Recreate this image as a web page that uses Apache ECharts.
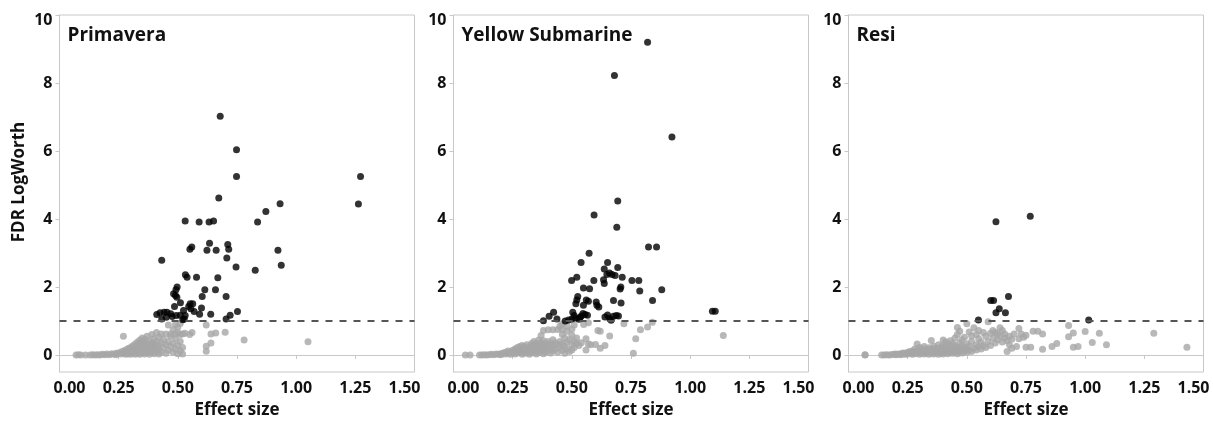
<!DOCTYPE html>
<html>
<head>
<meta charset="utf-8">
<style>
  html, body { margin: 0; padding: 0; background: #ffffff; }
  #chart { width: 1213px; height: 421px; }
</style>
<script src="https://cdn.jsdelivr.net/npm/echarts@6/dist/echarts.min.js"></script>
</head>
<body>
<div id="chart"></div>
<script>
// Effect size vs FDR LogWorth, three cultivars.
var panelNames = ['Primavera', 'Yellow Submarine', 'Resi'];
var xTicks = [0, 0.25, 0.5, 0.75, 1.0, 1.25, 1.5];
var yTicks = [0, 2, 4, 6, 8, 10];
var threshold = 1;

// Primavera: below threshold (grey) and significant (black)
var primaveraGrey = [
  [0.07,0.00],[0.08,0.01],[0.09,0.00],[0.11,0.00],[0.13,0.00],[0.14,0.01],[0.15,0.00],[0.16,0.01],[0.17,0.00],[0.18,0.02],
  [0.19,0.01],[0.20,0.03],[0.21,0.01],[0.22,0.04],[0.23,0.02],[0.24,0.05],[0.24,0.01],[0.25,0.06],[0.26,0.03],[0.26,0.09],
  [0.27,0.05],[0.27,0.12],[0.27,0.55],[0.28,0.02],[0.28,0.08],[0.28,0.15],[0.29,0.04],[0.29,0.11],[0.29,0.19],
  [0.30,0.02],[0.30,0.08],[0.30,0.14],[0.30,0.22],[0.31,0.05],[0.31,0.11],[0.31,0.18],[0.31,0.27],[0.32,0.02],[0.32,0.08],
  [0.32,0.15],[0.32,0.23],[0.32,0.32],[0.33,0.05],[0.33,0.12],[0.33,0.19],[0.33,0.28],[0.33,0.38],[0.34,0.02],[0.34,0.09],
  [0.34,0.16],[0.34,0.24],[0.34,0.34],[0.34,0.44],[0.35,0.06],[0.35,0.13],[0.35,0.21],[0.35,0.30],[0.35,0.40],[0.35,0.50],
  [0.36,0.03],[0.36,0.10],[0.36,0.18],[0.36,0.27],[0.36,0.36],[0.36,0.46],[0.37,0.07],[0.37,0.15],[0.37,0.24],[0.37,0.33],
  [0.37,0.55],[0.38,0.02],[0.38,0.12],[0.38,0.21],[0.38,0.30],[0.38,0.42],[0.39,0.08],[0.39,0.18],[0.39,0.27],[0.39,0.36],
  [0.39,0.60],[0.40,0.04],[0.40,0.14],[0.40,0.24],[0.40,0.33],[0.40,0.48],[0.41,0.10],[0.41,0.21],[0.41,0.40],[0.41,0.66],
  [0.42,0.03],[0.42,0.17],[0.42,0.28],[0.42,0.52],[0.43,0.09],[0.43,0.36],[0.43,0.62],[0.44,0.22],[0.44,0.45],[0.45,0.05],
  [0.45,0.30],[0.45,0.62],[0.46,0.14],[0.46,0.40],[0.46,0.88],[0.47,0.25],[0.47,0.55],[0.47,0.62],[0.48,0.08],[0.48,0.34],
  [0.48,0.75],[0.49,0.18],[0.49,0.48],[0.49,0.62],[0.49,0.90],[0.50,0.04],[0.50,0.28],[0.50,0.66],[0.50,0.82],[0.51,0.12],
  [0.51,0.40],[0.51,0.60],[0.51,0.93],[0.52,0.03],[0.52,0.22],[0.52,0.62],[0.53,0.64],[0.55,0.60],[0.56,0.66],
  [0.62,0.88],[0.62,0.26],[0.62,0.11],[0.64,0.35],[0.64,0.62],[0.66,0.65],[0.70,0.67],[0.78,0.44],[1.05,0.39]
];
var primaveraBlack = [
  [0.679,7.02],[0.748,6.04],[0.748,5.25],[1.272,5.25],[1.263,4.44],[0.673,4.62],[0.932,4.45],[0.872,4.22],[0.837,3.91],
  [0.531,3.94],[0.590,3.91],[0.632,3.91],[0.651,3.94],[0.634,3.29],[0.711,3.25],[0.715,3.11],[0.559,3.18],[0.551,3.11],
  [0.623,3.08],[0.662,3.08],[0.923,3.08],[0.432,2.79],[0.707,2.85],[0.746,2.59],[0.937,2.64],[0.827,2.49],[0.532,2.36],
  [0.539,2.29],[0.579,2.29],[0.669,2.27],[0.614,1.92],[0.659,1.92],[0.497,2.00],[0.492,1.92],[0.482,1.80],[0.490,1.75],
  [0.496,1.70],[0.603,1.72],[0.704,1.72],[0.511,1.54],[0.486,1.43],[0.552,1.51],[0.563,1.51],[0.600,1.38],[0.546,1.43],
  [0.555,1.36],[0.524,1.31],[0.569,1.28],[0.752,1.28],[0.639,1.20],[0.592,1.20],[0.411,1.19],[0.425,1.24],[0.442,1.26],
  [0.454,1.26],[0.470,1.21],[0.476,1.13],[0.493,1.16],[0.510,1.17],[0.432,1.06],[0.451,1.11],[0.527,1.06],[0.521,1.04],
  [0.721,1.17],[0.704,1.06],[0.531,1.16]
];

// Yellow Submarine
var yellowGrey = [
  [0.05,0.00],[0.07,0.00],[0.11,0.00],[0.12,0.00],[0.13,0.01],[0.14,0.00],[0.15,0.01],[0.16,0.02],[0.17,0.01],[0.18,0.03],
  [0.19,0.02],[0.20,0.04],[0.20,0.01],[0.21,0.06],[0.22,0.03],[0.22,0.08],[0.23,0.05],[0.23,0.12],[0.24,0.02],[0.24,0.09],
  [0.25,0.14],[0.25,0.05],[0.26,0.18],[0.26,0.10],[0.26,0.03],[0.27,0.22],[0.27,0.13],[0.27,0.06],[0.28,0.25],[0.28,0.16],
  [0.28,0.08],[0.29,0.28],[0.29,0.19],[0.29,0.11],[0.29,0.02],[0.30,0.24],[0.30,0.14],[0.30,0.05],[0.31,0.30],[0.31,0.18],
  [0.31,0.09],[0.32,0.22],[0.32,0.12],[0.32,0.02],[0.33,0.34],[0.33,0.26],[0.33,0.15],[0.33,0.06],[0.34,0.40],[0.34,0.30],
  [0.34,0.19],[0.34,0.10],[0.35,0.34],[0.35,0.23],[0.35,0.13],[0.35,0.03],[0.36,0.44],[0.36,0.28],[0.36,0.17],[0.36,0.07],
  [0.37,0.57],[0.37,0.36],[0.37,0.21],[0.37,0.11],[0.38,0.72],[0.38,0.42],[0.38,0.30],[0.38,0.15],[0.38,0.04],[0.39,0.34],
  [0.39,0.22],[0.39,0.09],[0.40,0.74],[0.40,0.40],[0.40,0.27],[0.40,0.14],[0.41,0.32],[0.41,0.20],[0.41,0.06],[0.42,0.74],
  [0.42,0.45],[0.42,0.26],[0.42,0.12],[0.43,0.36],[0.43,0.18],[0.44,0.75],[0.44,0.30],[0.44,0.08],[0.45,0.85],[0.45,0.40],
  [0.45,0.22],[0.46,0.92],[0.46,0.75],[0.46,0.60],[0.46,0.33],[0.46,0.14],[0.47,0.50],[0.47,0.26],[0.47,0.05],[0.48,0.85],
  [0.48,0.70],[0.48,0.38],[0.48,0.18],[0.49,0.45],[0.49,0.10],[0.50,0.76],[0.50,0.58],[0.50,0.30],[0.50,0.15],[0.51,0.88],
  [0.51,0.40],[0.51,0.22],[0.52,0.50],[0.52,0.34],[0.53,0.28],[0.54,0.36],[0.55,0.90],[0.56,0.48],[0.56,0.15],[0.57,0.95],
  [0.57,0.32],[0.58,0.30],[0.60,0.31],[0.61,0.72],[0.62,0.70],[0.62,0.20],[0.64,0.28],[0.66,0.56],[0.72,0.92],[0.76,0.05],
  [0.77,0.48],[0.79,0.74],[0.82,0.82],[0.84,0.96],[1.14,0.57]
];
var yellowBlack = [
  [0.820,9.20],[0.680,8.22],[0.923,6.41],[0.694,4.53],[0.594,4.12],[0.690,3.76],[0.824,3.18],[0.858,3.18],[0.573,2.99],
  [0.539,2.72],[0.651,2.72],[0.694,2.57],[0.637,2.53],[0.648,2.37],[0.659,2.41],[0.670,2.37],[0.683,2.34],[0.634,2.21],
  [0.637,2.10],[0.713,2.29],[0.521,2.29],[0.499,2.19],[0.593,2.19],[0.754,2.19],[0.783,2.19],[0.549,1.97],[0.575,1.95],
  [0.707,2.00],[0.704,1.94],[0.880,1.92],[0.787,1.88],[0.525,1.72],[0.521,1.62],[0.517,1.51],[0.561,1.62],[0.570,1.58],
  [0.603,1.56],[0.606,1.46],[0.614,1.41],[0.549,1.46],[0.676,1.60],[0.708,1.53],[0.841,1.60],[1.094,1.29],[1.106,1.29],
  [0.423,1.26],[0.404,1.14],[0.437,1.06],[0.380,1.01],[0.504,1.26],[0.510,1.16],[0.515,1.09],[0.500,1.06],[0.486,1.03],
  [0.472,1.00],[0.535,1.10],[0.547,1.22],[0.556,1.19],[0.566,1.17],[0.540,1.15],[0.651,1.18],[0.660,1.07],[0.666,1.02],
  [0.676,1.14],[0.688,1.16],[0.697,1.15],[0.640,1.12],[0.530,1.05]
];

// Resi
var resiGrey = [
  [0.07,0.00],[0.07,0.01],[0.14,0.00],[0.15,0.00],[0.16,0.01],[0.17,0.00],[0.18,0.01],[0.19,0.02],[0.20,0.01],[0.20,0.03],
  [0.21,0.02],[0.22,0.04],[0.22,0.01],[0.23,0.03],[0.23,0.06],[0.24,0.02],[0.24,0.05],[0.25,0.08],[0.25,0.03],[0.26,0.05],
  [0.26,0.10],[0.27,0.02],[0.27,0.07],[0.27,0.12],[0.28,0.04],[0.28,0.09],[0.28,0.18],[0.29,0.06],[0.29,0.12],[0.29,0.32],
  [0.30,0.02],[0.30,0.08],[0.30,0.15],[0.30,0.22],[0.31,0.05],[0.31,0.10],[0.31,0.18],[0.32,0.03],[0.32,0.08],[0.32,0.13],
  [0.32,0.25],[0.33,0.05],[0.33,0.11],[0.33,0.17],[0.34,0.02],[0.34,0.08],[0.34,0.14],[0.34,0.21],[0.35,0.05],[0.35,0.11],
  [0.35,0.18],[0.35,0.43],[0.36,0.03],[0.36,0.09],[0.36,0.15],[0.36,0.26],[0.37,0.06],[0.37,0.12],[0.37,0.20],[0.38,0.02],
  [0.38,0.09],[0.38,0.16],[0.38,0.30],[0.39,0.05],[0.39,0.12],[0.39,0.22],[0.40,0.03],[0.40,0.10],[0.40,0.17],[0.40,0.28],
  [0.40,0.44],[0.41,0.07],[0.41,0.14],[0.41,0.24],[0.41,0.38],[0.42,0.04],[0.42,0.11],[0.42,0.19],[0.42,0.32],[0.43,0.08],
  [0.43,0.15],[0.43,0.26],[0.43,0.42],[0.44,0.05],[0.44,0.12],[0.44,0.21],[0.44,0.34],[0.45,0.09],[0.45,0.17],[0.45,0.28],
  [0.45,0.50],[0.46,0.04],[0.46,0.13],[0.46,0.23],[0.46,0.60],[0.46,0.81],[0.47,0.10],[0.47,0.19],[0.47,0.36],[0.47,0.70],
  [0.48,0.06],[0.48,0.15],[0.48,0.28],[0.48,0.45],[0.49,0.12],[0.49,0.22],[0.49,0.52],[0.50,0.08],[0.50,0.18],[0.50,0.33],
  [0.50,0.92],[0.51,0.14],[0.51,0.26],[0.51,0.68],[0.52,0.10],[0.52,0.40],[0.52,0.56],[0.53,0.20],[0.53,0.80],[0.54,0.15],
  [0.54,0.30],[0.54,0.60],[0.55,0.24],[0.55,0.48],[0.55,0.72],[0.56,0.18],[0.56,0.38],[0.57,0.28],[0.57,0.66],[0.58,0.22],
  [0.58,0.55],[0.59,0.40],[0.59,0.98],[0.60,0.28],[0.60,0.64],[0.61,0.72],[0.61,0.50],[0.62,0.66],[0.62,0.35],[0.63,0.62],
  [0.63,0.45],[0.64,0.80],[0.64,0.56],[0.65,0.72],[0.65,0.38],[0.66,0.50],[0.66,0.62],[0.67,0.10],[0.67,0.42],[0.68,0.30],
  [0.68,0.55],[0.69,0.46],[0.69,0.20],[0.70,0.62],[0.71,0.25],[0.72,0.78],[0.72,0.48],[0.73,0.62],[0.74,0.52],[0.75,0.58],
  [0.75,0.23],[0.77,0.23],[0.78,0.70],[0.80,0.70],[0.82,0.62],[0.82,0.17],[0.86,0.25],[0.88,0.34],[0.93,0.87],[0.93,0.54],
  [0.95,0.65],[0.95,0.23],[0.97,0.25],[1.00,0.69],[1.03,0.37],[1.06,0.64],[1.09,0.30],[1.29,0.64],[1.43,0.23]
];
var resiBlack = [
  [0.623,3.92],[0.768,4.08],[0.601,1.60],[0.613,1.60],[0.676,1.72],[0.637,1.36],[0.623,1.24],[0.663,1.24],
  [0.549,1.03],[1.015,1.03]
];

var greyData = [primaveraGrey, yellowGrey, resiGrey];
var blackData = [primaveraBlack, yellowBlack, resiBlack];

var FONT = '"Open Sans", "Noto Sans", sans-serif';
var gridLefts = [59.5, 453.5, 848.5];
var BORDER = '#c8c8c8';

var labelFont = { fontFamily: FONT, fontSize: 16, fontWeight: 'bold', color: '#111' };

var grids = [], xAxes = [], yAxes = [], series = [], titles = [];
for (var i = 0; i < 3; i++) {
  grids.push({
    left: gridLefts[i], top: 15, width: 355, height: 357,
    outerBoundsMode: 'none', containLabel: false,
    show: true, borderColor: BORDER, borderWidth: 1, backgroundColor: '#fff'
  });
  xAxes.push({
    gridIndex: i, type: 'value', min: xTicks[0], max: xTicks[xTicks.length - 1],
    interval: xTicks[1] - xTicks[0],
    axisLine: { show: true, lineStyle: { color: BORDER, width: 1 } },
    axisTick: { show: true, length: 4, lineStyle: { color: BORDER } },
    splitLine: { show: false },
    axisLabel: {
      margin: 8,
      fontFamily: FONT, fontSize: 16, fontWeight: 'bold', color: '#111',
      formatter: function (v) {
        var s = v.toFixed(2);
        if (v === xTicks[0]) return '{first|' + s + '}';
        if (v === xTicks[xTicks.length - 1]) return '{last|' + s + '}';
        return s;
      },
      rich: {
        first: Object.assign({ padding: [0, 0, 0, 20] }, labelFont),
        last: Object.assign({ padding: [0, 20, 0, 0] }, labelFont)
      }
    },
    name: 'Effect size', nameLocation: 'middle', nameGap: 30,
    nameTextStyle: { fontFamily: FONT, fontSize: 17, fontWeight: 'bold', color: '#111' }
  });
  yAxes.push({
    gridIndex: i, type: 'value', min: -0.5, max: 10,
    axisLine: { show: true, lineStyle: { color: BORDER, width: 1 } },
    axisTick: { show: true, length: 4, lineStyle: { color: BORDER }, customValues: yTicks },
    splitLine: { show: false },
    axisLabel: {
      margin: 7, customValues: yTicks,
      fontFamily: FONT, fontSize: 16, fontWeight: 'bold', color: '#111',
      formatter: function (v) {
        if (v === yTicks[yTicks.length - 1]) return '{top|' + v + '}';
        return String(v);
      },
      rich: { top: Object.assign({ padding: [11, 0, 0, 0] }, labelFont) }
    }
  });
  titles.push({
    text: panelNames[i], left: gridLefts[i] + 8, top: 26, padding: 0,
    textStyle: { fontFamily: FONT, fontSize: 19, fontWeight: 'bold', color: '#111' }
  });
  series.push({
    type: 'scatter', xAxisIndex: i, yAxisIndex: i, data: greyData[i],
    symbol: 'circle', symbolSize: 7,
    itemStyle: { color: '#a6a6a6' },
    markLine: {
      silent: true, symbol: ['none', 'none'], label: { show: false },
      lineStyle: { color: '#555', type: [7, 7], width: 2 },
      data: [{ yAxis: threshold }]
    },
    z: 2
  });
  series.push({
    type: 'scatter', xAxisIndex: i, yAxisIndex: i, data: blackData[i],
    symbol: 'circle', symbolSize: 7,
    itemStyle: { color: '#000' },
    z: 3
  });
}

var chart = echarts.init(document.getElementById('chart'), null, { renderer: 'canvas' });
chart.setOption({
  animation: false,
  backgroundColor: '#ffffff',
  title: titles,
  grid: grids,
  xAxis: xAxes,
  yAxis: yAxes,
  series: series,
  graphic: [{
    type: 'text', x: 19, y: 182, rotation: Math.PI / 2,
    style: {
      text: 'FDR LogWorth', fontFamily: FONT, fontSize: 17, fontWeight: 'bold',
      fill: '#111', align: 'center', verticalAlign: 'middle'
    }
  }]
});
</script>
</body>
</html>
